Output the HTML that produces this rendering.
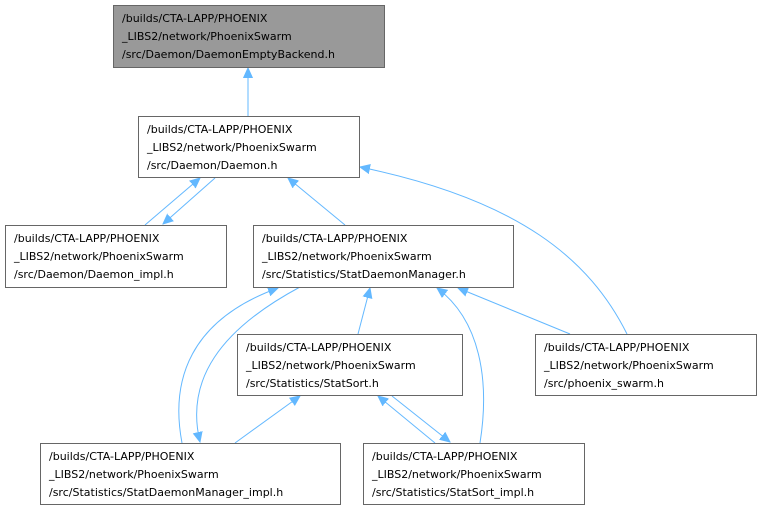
<!DOCTYPE html>
<html><head><meta charset="utf-8"><style>
html,body{margin:0;padding:0;background:#fff;width:762px;height:511px;overflow:hidden}
svg text{font-family:"DejaVu Sans","Liberation Sans",sans-serif;font-size:11px;fill:#000}
</style></head><body>
<svg width="762" height="511" viewBox="0 0 762 511" xmlns="http://www.w3.org/2000/svg">
<defs><marker id="a" markerWidth="11" markerHeight="11" refX="10" refY="5.5" orient="auto" markerUnits="userSpaceOnUse">
<path d="M0,1 L10,5.5 L0,10 z" fill="#63b8ff" stroke="#63b8ff"/></marker></defs>
<g fill="none" stroke="#63b8ff" stroke-width="1">
<path d="M248,116 L248,68" marker-end="url(#a)"/>
<path d="M145,225 L200,178" marker-end="url(#a)"/>
<path d="M215,178 L163,224" marker-end="url(#a)"/>
<path d="M345,225 L288,178" marker-end="url(#a)"/>
<path d="M627,334 C590,260 520,200 360,167" marker-end="url(#a)"/>
<path d="M358,334 L370,288" marker-end="url(#a)"/>
<path d="M570,334 L458,288" marker-end="url(#a)"/>
<path d="M182,443 C170,380 190,320 278,288" marker-end="url(#a)"/>
<path d="M300,287 C220,330 185,380 200,442" marker-end="url(#a)"/>
<path d="M480,443 C490,380 480,320 437,288" marker-end="url(#a)"/>
<path d="M235,443 L300,396" marker-end="url(#a)"/>
<path d="M435,443 L378,396" marker-end="url(#a)"/>
<path d="M392,396 L450,442" marker-end="url(#a)"/>
</g>
<g stroke="#666" stroke-width="1">
<rect x="113.5" y="5.5" width="271" height="62" fill="#999"/>
<rect x="138.5" y="116.5" width="221" height="61" fill="#fff"/>
<rect x="5.5" y="225.5" width="221" height="62" fill="#fff"/>
<rect x="253.5" y="225.5" width="260" height="62" fill="#fff"/>
<rect x="535.5" y="334.5" width="221" height="61" fill="#fff"/>
<rect x="237.5" y="334.5" width="225" height="61" fill="#fff"/>
<rect x="40.5" y="443.5" width="300" height="61" fill="#fff"/>
<rect x="363.5" y="443.5" width="221" height="61" fill="#fff"/>
</g>
<text x="122" y="22">/builds/CTA-LAPP/PHOENIX</text><text x="122" y="40">_LIBS2/network/PhoenixSwarm</text><text x="122" y="58">/src/Daemon/DaemonEmptyBackend.h</text>
<text x="147" y="133">/builds/CTA-LAPP/PHOENIX</text><text x="147" y="151">_LIBS2/network/PhoenixSwarm</text><text x="147" y="169">/src/Daemon/Daemon.h</text>
<text x="14" y="242">/builds/CTA-LAPP/PHOENIX</text><text x="14" y="260">_LIBS2/network/PhoenixSwarm</text><text x="14" y="278">/src/Daemon/Daemon_impl.h</text>
<text x="262" y="242">/builds/CTA-LAPP/PHOENIX</text><text x="262" y="260">_LIBS2/network/PhoenixSwarm</text><text x="262" y="278">/src/Statistics/StatDaemonManager.h</text>
<text x="544" y="351">/builds/CTA-LAPP/PHOENIX</text><text x="544" y="369">_LIBS2/network/PhoenixSwarm</text><text x="544" y="387">/src/phoenix_swarm.h</text>
<text x="246" y="351">/builds/CTA-LAPP/PHOENIX</text><text x="246" y="369">_LIBS2/network/PhoenixSwarm</text><text x="246" y="387">/src/Statistics/StatSort.h</text>
<text x="49" y="460">/builds/CTA-LAPP/PHOENIX</text><text x="49" y="478">_LIBS2/network/PhoenixSwarm</text><text x="49" y="496">/src/Statistics/StatDaemonManager_impl.h</text>
<text x="372" y="460">/builds/CTA-LAPP/PHOENIX</text><text x="372" y="478">_LIBS2/network/PhoenixSwarm</text><text x="372" y="496">/src/Statistics/StatSort_impl.h</text>
</svg>
</body></html>
